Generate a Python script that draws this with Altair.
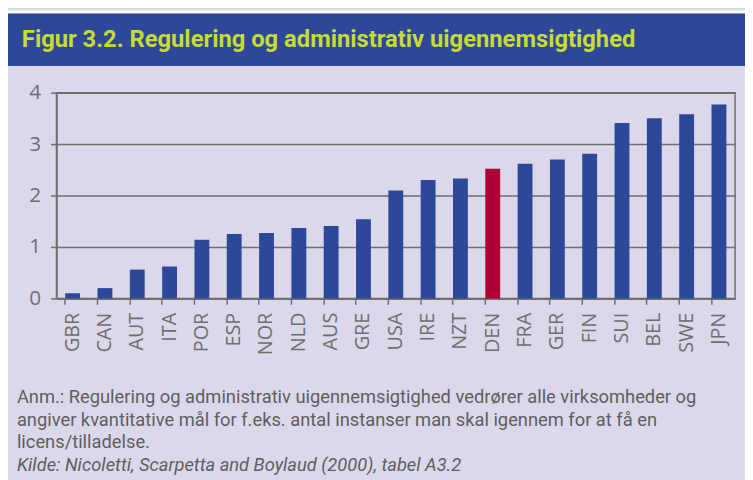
import altair as alt
import pandas as pd

# ---- data ----
countries = ["GBR", "CAN", "AUT", "ITA", "POR", "ESP", "NOR", "NLD", "AUS", "GRE",
             "USA", "IRE", "NZT", "DEN", "FRA", "GER", "FIN", "SUI", "BEL", "SWE", "JPN"]
values = [0.10, 0.20, 0.56, 0.62, 1.14, 1.25, 1.27, 1.37, 1.41, 1.54,
          2.10, 2.30, 2.33, 2.52, 2.62, 2.70, 2.81, 3.41, 3.50, 3.58, 3.77]
highlight = "DEN"
y_ticks = [0, 1, 2, 3, 4]

title_text = "Figur 3.2. Regulering og administrativ uigennemsigtighed"
note_lines = [
    "Anm.: Regulering og administrativ uigennemsigtighed vedrører alle virksomheder og",
    "angiver kvantitative mål for f.eks. antal instanser man skal igennem for at få en",
    "licens/tilladelse.",
]
source_line = "Kilde: Nicoletti, Scarpetta and Boylaud (2000), tabel A3.2"

df = pd.DataFrame({"land": countries, "vaerdi": values})
df["hl"] = df["land"].eq(highlight).map({True: "hl", False: "normal"})

BLUE = "#2D4898"
RED = "#AE0036"
GRID = "#6E6E6E"
LABEL = "#6E6E6E"
LAV = "#DCD8EB"
GREENTXT = "#C6DC30"
NARROW = "Roboto, Lato, sans-serif"
REG = "Open Sans, Noto Sans, sans-serif"

W, H = 686, 208
PAD_L, PAD_T = 49, 83
TOTAL_W, TOTAL_H = 745, 472

one = alt.Data(values=[{}])

white_top = alt.Chart(one).mark_rect(color="white").encode(
    x=alt.value(-PAD_L), x2=alt.value(TOTAL_W - PAD_L),
    y=alt.value(-PAD_T), y2=alt.value(-80))

title_bar = alt.Chart(one).mark_rect(color=BLUE).encode(
    x=alt.value(-PAD_L), x2=alt.value(TOTAL_W - PAD_L),
    y=alt.value(-80), y2=alt.value(-27))

title = alt.Chart(one).mark_text(
    align="left", baseline="alphabetic", font=NARROW, fontSize=24,
    fontWeight="bold", color=GREENTXT
).encode(x=alt.value(-35), y=alt.value(-46), text=alt.value(title_text))

bars = alt.Chart(df).mark_bar().encode(
    x=alt.X("land:N", sort=countries, title=None,
            scale=alt.Scale(paddingInner=0.54, paddingOuter=0.27),
            axis=alt.Axis(labelAngle=270, labelAlign="right", labelBaseline="middle",
                          labelFont=REG, labelFontSize=20, labelColor=LABEL,
                          labelPadding=8, tickSize=6, tickColor=GRID, tickWidth=1.5,
                          domainColor=GRID, domainWidth=1.5, bandPosition=0,
                          ticks=True, grid=False)),
    y=alt.Y("vaerdi:Q", title=None,
            scale=alt.Scale(domain=[0, 4], nice=False),
            axis=alt.Axis(values=y_ticks, format="d", labelFont=REG, labelFontSize=21,
                          labelColor=LABEL, labelPadding=10, tickSize=6,
                          tickColor=GRID, tickWidth=1.5, domainColor=GRID,
                          domainWidth=1.5, grid=True, gridColor=GRID, gridWidth=1.5)),
    color=alt.Color("hl:N", scale=alt.Scale(domain=["normal", "hl"], range=[BLUE, RED]),
                    legend=None),
)

notes = alt.Chart(one).mark_text(
    align="left", baseline="alphabetic", font=NARROW, fontSize=18.5,
    color="#5E5E5E", lineHeight=22.5
).encode(x=alt.value(-40), y=alt.value(314), text=alt.value(note_lines))

source = alt.Chart(one).mark_text(
    align="left", baseline="alphabetic", font=NARROW, fontSize=18.5,
    fontStyle="italic", color="#5E5E5E"
).encode(x=alt.value(-40), y=alt.value(382), text=alt.value(source_line))

chart = alt.layer(white_top, title_bar, title, bars, notes, source).properties(
    width=W, height=H,
    autosize=alt.AutoSizeParams(type="none"),
    padding={"left": PAD_L, "top": PAD_T, "right": TOTAL_W - PAD_L - W,
             "bottom": TOTAL_H - PAD_T - H},
    background=LAV,
).configure_view(stroke=GRID, strokeWidth=1.5)

chart.save("out.html", embed_options={"renderer": "svg", "actions": False})
